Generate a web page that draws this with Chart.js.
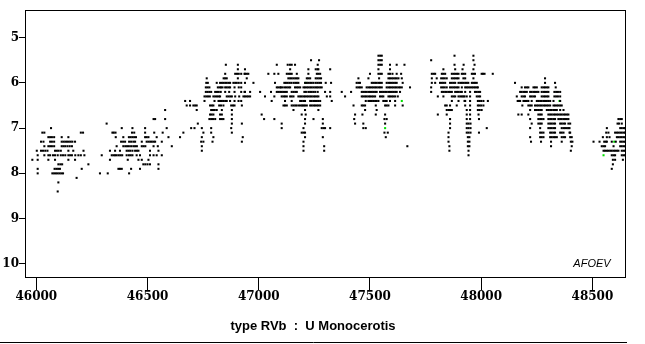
<!DOCTYPE html>
<html>
<head>
<meta charset="utf-8">
<script src="https://cdn.jsdelivr.net/npm/chart.js@4/dist/chart.umd.min.js"></script>
<style>
html, body { margin: 0; padding: 0; background: #fff; }
</style>
</head>
<body>
<canvas id="grafico" width="645" height="344"></canvas>
<script>
// Observations de U Mon, par saison : [magnitude, JJ - 2400000, ...]
var season1 = [
    [7.0, 46066],
    [7.1, 46027, 46036, 46200, 46210],
    [7.2, 46054, 46062, 46070, 46080, 46114, 46144],
    [7.3, 46021, 46032, 46062, 46070, 46080, 46114, 46122, 46130, 46138, 46146, 46154, 46162, 46174],
    [7.4, 46036, 46054, 46062, 46070, 46080, 46114, 46122, 46130, 46140, 46150, 46160],
    [7.5, 46002, 46021, 46030, 46040, 46050, 46084, 46092, 46100, 46110, 46144, 46166, 46212],
    [7.6, 46006, 46036, 46054, 46062, 46075, 46084, 46096, 46110, 46120, 46130, 46144, 46152, 46160, 46175, 46189, 46200, 46216],
    [7.7, 45982, 46006, 46054, 46084, 46144, 46174],
    [7.8, 46099, 46108, 46116, 46234],
    [7.9, 46006, 46082, 46090, 46098, 46106, 46204],
    [8.0, 46006, 46072, 46080, 46088, 46096, 46104, 46112, 46120],
    [8.1, 46181],
    [8.2, 46099],
    [8.4, 46096]
];

var season2 = [
    [6.6, 46579],
    [6.8, 46527, 46534, 46579],
    [6.9, 46316],
    [7.0, 46384, 46432, 46489, 46586],
    [7.1, 46342, 46348, 46356, 46430, 46440, 46489, 46530, 46568],
    [7.2, 46357, 46391, 46416, 46424, 46432, 46440, 46448, 46489, 46496, 46504, 46541, 46594],
    [7.3, 46381, 46390, 46399, 46417, 46426, 46436, 46444, 46474, 46496, 46504, 46512, 46519, 46527, 46534, 46564],
    [7.4, 46361, 46391, 46400, 46408, 46416, 46426, 46436, 46444, 46452, 46474, 46482, 46490, 46527, 46546, 46609],
    [7.5, 46331, 46354, 46376, 46406, 46414, 46422, 46432, 46444, 46452, 46459, 46511, 46549],
    [7.6, 46294, 46339, 46347, 46354, 46361, 46370, 46378, 46386, 46406, 46416, 46424, 46432, 46451, 46466, 46511, 46527, 46541, 46564],
    [7.7, 46331, 46411, 46459, 46474, 46504],
    [7.8, 46481, 46490, 46500, 46511, 46549],
    [7.9, 46369, 46376, 46384, 46426, 46466, 46549],
    [8.0, 46286, 46321, 46417]
];

var season3 = [
    [5.6, 46852, 46906],
    [5.7, 46906],
    [5.8, 46849, 46894, 46902, 46910, 46921, 46936],
    [5.9, 46766, 46842, 46849, 46856, 46906],
    [6.0, 46764, 46771, 46811, 46826, 46834, 46841, 46849, 46856, 46864, 46871, 46886, 46894, 46901, 46910, 46921],
    [6.1, 46762, 46770, 46778, 46816, 46824, 46830, 46837, 46849, 46856, 46864, 46871, 46891, 46910, 46921],
    [6.2, 46762, 46770, 46778, 46786, 46804, 46812, 46820, 46829, 46849, 46867, 46891, 46921, 46936],
    [6.3, 46756, 46764, 46772, 46780, 46796, 46804, 46812, 46820, 46826, 46856, 46864, 46872, 46879, 46894, 46912, 46931],
    [6.4, 46669, 46691, 46756, 46801, 46819, 46826, 46834, 46841, 46849, 46856, 46871, 46891, 46909, 46921],
    [6.5, 46676, 46691, 46706, 46714, 46721, 46781, 46789, 46796, 46822, 46830, 46841, 46876, 46884, 46891, 46924],
    [6.6, 46721, 46786, 46794, 46802, 46811, 46834, 46879],
    [6.7, 46781, 46788, 46796, 46826, 46834, 46879],
    [6.8, 46778, 46786, 46794, 46804, 46826, 46834, 46841, 46879],
    [6.9, 46726, 46879, 46924],
    [7.0, 46696, 46711, 46744, 46786, 46876],
    [7.1, 46661, 46751, 46786, 46879],
    [7.2, 46646, 46744, 46796, 46928],
    [7.3, 46741, 46751, 46792, 46924],
    [7.4, 46744],
    [7.5, 46744]
];

var season4 = [
    [5.5, 47235, 47271],
    [5.6, 47081, 47130, 47140, 47148, 47163, 47265],
    [5.7, 46938, 47141, 47223, 47256, 47264, 47268, 47321],
    [5.8, 46938, 46946, 46953, 47043, 47070, 47088, 47126, 47134, 47141, 47148, 47171, 47223, 47261, 47268, 47276],
    [5.9, 46946, 47133, 47141, 47148, 47156, 47164, 47171, 47178, 47216, 47223, 47231, 47256, 47264, 47272, 47280],
    [6.0, 46938, 46976, 47073, 47115, 47122, 47130, 47138, 47146, 47156, 47164, 47171, 47178, 47208, 47216, 47223, 47231, 47238, 47246, 47256, 47264, 47272, 47280, 47301, 47325],
    [6.1, 47081, 47088, 47096, 47100, 47108, 47118, 47126, 47134, 47141, 47163, 47171, 47178, 47186, 47201, 47208, 47216, 47223, 47231, 47238, 47246, 47254, 47261, 47268, 47276, 47283],
    [6.2, 46938, 46961, 47006, 47055, 47081, 47088, 47096, 47103, 47110, 47118, 47126, 47148, 47156, 47164, 47171, 47205, 47212, 47223, 47231, 47238, 47246, 47254, 47265, 47298, 47321],
    [6.3, 46938, 46946, 46953, 46961, 47028, 47070, 47103, 47111, 47118, 47126, 47141, 47148, 47156, 47178, 47186, 47193, 47201, 47208, 47216, 47223, 47231, 47238, 47246, 47253, 47261, 47268, 47306, 47321],
    [6.4, 47058, 47118, 47148, 47186, 47193, 47201, 47208, 47231, 47238, 47246, 47253, 47261, 47268, 47276, 47328],
    [6.5, 47111, 47118, 47126, 47148, 47156, 47164, 47171, 47181, 47189, 47196, 47201, 47208, 47216, 47231, 47238, 47246, 47253, 47261, 47268, 47276],
    [6.6, 47156, 47208, 47268],
    [6.7, 47013, 47193, 47211],
    [6.8, 47024, 47070, 47208, 47246, 47288],
    [6.9, 47103, 47208, 47288],
    [7.0, 47103, 47201, 47283, 47291, 47298, 47321],
    [7.1, 47193, 47201, 47208],
    [7.2, 47208, 47288],
    [7.3, 47201],
    [7.4, 47201, 47294],
    [7.5, 47201, 47294]
];

var season5 = [
    [5.4, 47538, 47546, 47553],
    [5.5, 47538, 47546, 47553],
    [5.6, 47538, 47546, 47553, 47590, 47620, 47655],
    [5.7, 47538, 47590],
    [5.8, 47500, 47538, 47546, 47553, 47583, 47590, 47601, 47620, 47640],
    [5.9, 47448, 47493, 47541, 47583, 47590, 47598, 47605, 47613, 47620, 47628, 47643],
    [6.0, 47440, 47448, 47455, 47508, 47515, 47523, 47530, 47538, 47545, 47553, 47575, 47583, 47590, 47598, 47605, 47613, 47620, 47647],
    [6.1, 47440, 47448, 47455, 47463, 47485, 47493, 47500, 47508, 47515, 47523, 47530, 47538, 47545, 47553, 47575, 47583, 47590, 47598, 47605, 47613, 47620, 47628, 47635, 47643, 47680],
    [6.2, 47373, 47415, 47463, 47470, 47478, 47485, 47493, 47500, 47508, 47515, 47523, 47530, 47545, 47553, 47560, 47568, 47575, 47583, 47590, 47598, 47605, 47613, 47620, 47635],
    [6.3, 47388, 47463, 47470, 47478, 47485, 47493, 47500, 47508, 47515, 47523, 47545, 47553, 47560, 47583, 47590, 47598, 47605, 47613, 47625],
    [6.4, 47481, 47493, 47500, 47508, 47515, 47523, 47530, 47538, 47560, 47568, 47575, 47590, 47613],
    [6.5, 47426, 47463, 47470, 47478, 47526, 47568, 47575, 47583, 47613, 47647],
    [6.6, 47478, 47530],
    [6.7, 47433, 47466, 47526, 47568],
    [6.8, 47429, 47565, 47575],
    [6.9, 47433, 47470, 47568],
    [7.0, 47470, 47481],
    [7.1, 47565, 47580],
    [7.2, 47571],
    [7.4, 47668]
];

var season6 = [
    [5.4, 47880, 47965],
    [5.5, 47775, 47965],
    [5.6, 47880, 47921, 47970],
    [5.7, 47830, 47883, 47916, 47965],
    [5.8, 47778, 47786, 47793, 47823, 47830, 47838, 47868, 47876, 47883, 47891, 47898, 47913, 47920, 47928, 47958, 47965, 47972, 48002, 48008, 48015, 48052],
    [5.9, 47778, 47800, 47820, 47828, 47836, 47845, 47868, 47876, 47883, 47891, 47898, 47920, 47928, 47965],
    [6.0, 47778, 47793, 47815, 47823, 47830, 47838, 47860, 47868, 47876, 47883, 47898, 47906, 47913, 47920, 47928, 47935, 47942, 47958, 47965, 47972, 47980],
    [6.1, 47775, 47820, 47828, 47836, 47845, 47860, 47868, 47876, 47883, 47891, 47898, 47913, 47928, 47935, 47942, 47950, 47958, 47965, 47972, 47980, 47985],
    [6.2, 47775, 47823, 47830, 47838, 47845, 47853, 47860, 47868, 47883, 47891, 47898, 47906, 47913, 47928, 47950, 47972, 47980, 47988, 47995],
    [6.3, 47805, 47830, 47868, 47876, 47883, 47898, 47906, 47913, 47920, 47925, 47935, 47950, 47980, 47988, 47995],
    [6.4, 47868, 47898, 47925, 47928, 47950, 47985, 47992, 48000, 48010, 48030],
    [6.5, 47838, 47845, 47860, 47890, 47928, 47950, 47985, 47992, 48000, 48010],
    [6.6, 47845, 47853, 47860, 47868, 47935, 47950, 47985, 47993, 48002],
    [6.7, 47805, 47845, 47935, 47950, 47988],
    [6.8, 47860, 47935, 47950, 47990],
    [6.9, 47860, 47935, 47943, 47952],
    [7.0, 47860, 47935, 47943, 47952, 48025],
    [7.1, 47853, 47935, 47943, 47952, 47990],
    [7.2, 47853, 47940, 47947],
    [7.3, 47853, 47940, 47947],
    [7.4, 47857, 47940, 47947],
    [7.5, 47857, 47943],
    [7.6, 47943]
];

var season7 = [
    [5.9, 48287],
    [6.0, 48152, 48287, 48332],
    [6.1, 48182, 48197, 48205, 48212, 48235, 48242, 48250, 48272, 48280, 48287, 48295, 48302, 48335],
    [6.2, 48175, 48182, 48190, 48197, 48205, 48220, 48227, 48235, 48242, 48250, 48257, 48272, 48280, 48287, 48295, 48302, 48329, 48337, 48345, 48355],
    [6.3, 48160, 48182, 48190, 48197, 48220, 48227, 48235, 48242, 48272, 48280, 48287, 48295, 48302, 48329, 48337, 48345, 48355],
    [6.4, 48164, 48170, 48175, 48190, 48197, 48205, 48212, 48227, 48250, 48257, 48265, 48272, 48280, 48287, 48295, 48302, 48310, 48325, 48355],
    [6.5, 48185, 48212, 48220, 48227, 48242, 48250, 48257, 48265, 48272, 48280, 48287, 48295, 48302, 48310, 48325, 48332, 48340, 48347, 48355, 48362],
    [6.6, 48220, 48242, 48250, 48257, 48265, 48272, 48295, 48302, 48310, 48317, 48325, 48332, 48340, 48355, 48370],
    [6.7, 48167, 48182, 48212, 48257, 48265, 48272, 48302, 48310, 48317, 48325, 48332, 48340, 48347, 48355, 48362, 48370, 48377, 48385, 48392],
    [6.8, 48220, 48257, 48265, 48272, 48280, 48302, 48310, 48317, 48325, 48332, 48347, 48355, 48362, 48370, 48377, 48385, 48392],
    [6.9, 48227, 48257, 48265, 48272, 48302, 48310, 48317, 48325, 48332, 48355, 48362, 48370, 48377, 48392, 48400],
    [7.0, 48220, 48265, 48302, 48310, 48317, 48325, 48332, 48362, 48370, 48377, 48385, 48392, 48397],
    [7.1, 48265, 48272, 48280, 48310, 48317, 48325, 48332, 48355, 48362, 48370, 48397, 48400],
    [7.2, 48220, 48265, 48272, 48280, 48310, 48317, 48325, 48332, 48340, 48362, 48370, 48377, 48400, 48407],
    [7.3, 48224, 48269, 48314, 48362, 48403, 48410],
    [7.4, 48314, 48407],
    [7.5, 48403]
];

var season8 = [
    [6.8, 48617, 48625, 48632],
    [6.9, 48613, 48620, 48632],
    [7.0, 48565, 48625, 48632, 48640, 48647],
    [7.1, 48562, 48572, 48602, 48610, 48617, 48625, 48632, 48640, 48647],
    [7.2, 48547, 48565, 48577, 48610, 48617, 48625, 48632, 48640, 48647],
    [7.3, 48505, 48532, 48553, 48560, 48565, 48587, 48605, 48625, 48632, 48640, 48647],
    [7.4, 48542, 48550, 48557, 48595, 48625, 48632, 48640, 48647],
    [7.5, 48550, 48557, 48565, 48572, 48580, 48587, 48595, 48602, 48610, 48617, 48632, 48640, 48647],
    [7.6, 48587, 48595, 48602, 48632, 48640, 48647],
    [7.7, 48592, 48602, 48637],
    [7.8, 48592],
    [7.9, 48587]
];

// Observations tracees en vert : [JJ, magnitude]
var greenObs = [
    [47211, 6.0], [47568, 7.0], [47643, 6.4], [48352, 6.4], [48598, 7.3], [48550, 7.6]
];

// graduations des axes
var xTicks = [46000, 46500, 47000, 47500, 48000, 48500];
var yTicks = [5, 6, 7, 8, 9, 10];

function toPoints(rows) {
    var pts = [];
    rows.forEach(function (r) {
        for (var i = 1; i < r.length; i++) {
            pts.push({ x: r[i], y: r[0] });
        }
    });
    return pts;
}

var blackPoints = [season1, season2, season3, season4, season5, season6, season7, season8]
    .reduce(function (acc, s) { return acc.concat(toPoints(s)); }, []);
var greenPoints = greenObs.map(function (p) { return { x: p[0], y: p[1] }; });

var tickFont = { family: '"DejaVu Serif"', size: 12, weight: 'bold' };

//Dados para o gráfico
var data = {
    datasets: [{
        data: blackPoints,
        backgroundColor: '#000',
        pointStyle: 'rect',
        pointRadius: 1.45,
        pointBorderWidth: 0
    }, {
        data: greenPoints,
        backgroundColor: '#00e000',
        pointStyle: 'rect',
        pointRadius: 1.45,
        pointBorderWidth: 0
    }]
};

// cadre, titre et mention AFOEV
var decor = {
    id: 'decor',
    afterDraw: function (chart) {
        var ctx = chart.ctx, a = chart.chartArea;
        ctx.save();
        ctx.strokeStyle = '#000';
        ctx.lineWidth = 1;
        ctx.strokeRect(a.left + 0.5, a.top + 0.5, a.right - a.left - 1, a.bottom - a.top);
        ctx.beginPath();
        ctx.moveTo(0, 342.5);
        ctx.lineTo(627, 342.5);
        ctx.stroke();
        ctx.fillStyle = '#000';
        ctx.textAlign = 'center';
        ctx.textBaseline = 'middle';
        ctx.font = 'bold 13px "Liberation Sans"';
        ctx.fillText('type RVb  :  U Monocerotis', 313, 326);
        ctx.font = 'italic 11px "Liberation Sans"';
        ctx.fillText('AFOEV', 592, 264);
        ctx.restore();
    }
};

//Configurações do gráfico
var options = {
    responsive: false,
    animation: false,
    layout: { padding: { top: 10, right: 19, left: 0, bottom: 0 } },
    plugins: { legend: { display: false }, tooltip: { enabled: false } },
    scales: {
        x: {
            type: 'linear',
            min: 45949,
            max: 48651,
            afterBuildTicks: function (s) { s.ticks = xTicks.map(function (v) { return { value: v }; }); },
            afterFit: function (s) { s.height = 67; },
            border: { display: false },
            grid: { drawOnChartArea: false, tickLength: 13, color: '#000' },
            ticks: {
                autoSkip: false,
                maxRotation: 0,
                padding: 0,
                color: '#000',
                font: tickFont,
                callback: function (v) { return String(v); }
            }
        },
        y: {
            type: 'linear',
            reverse: true,
            min: 4.39,
            max: 10.29,
            afterBuildTicks: function (s) { s.ticks = yTicks.map(function (v) { return { value: v }; }); },
            afterFit: function (s) { s.width = 25; },
            border: { display: false },
            grid: { drawOnChartArea: false, tickLength: 6, color: '#000' },
            ticks: {
                autoSkip: false,
                padding: 0,
                color: '#000',
                font: tickFont,
                callback: function (v) { return String(v); }
            }
        }
    }
};

//Criar o gráfico
var ctx = document.querySelector('#grafico');
var chart = new Chart(ctx, {
    type: 'scatter',
    data: data,
    options: options,
    plugins: [decor]
});
</script>
</body>
</html>
